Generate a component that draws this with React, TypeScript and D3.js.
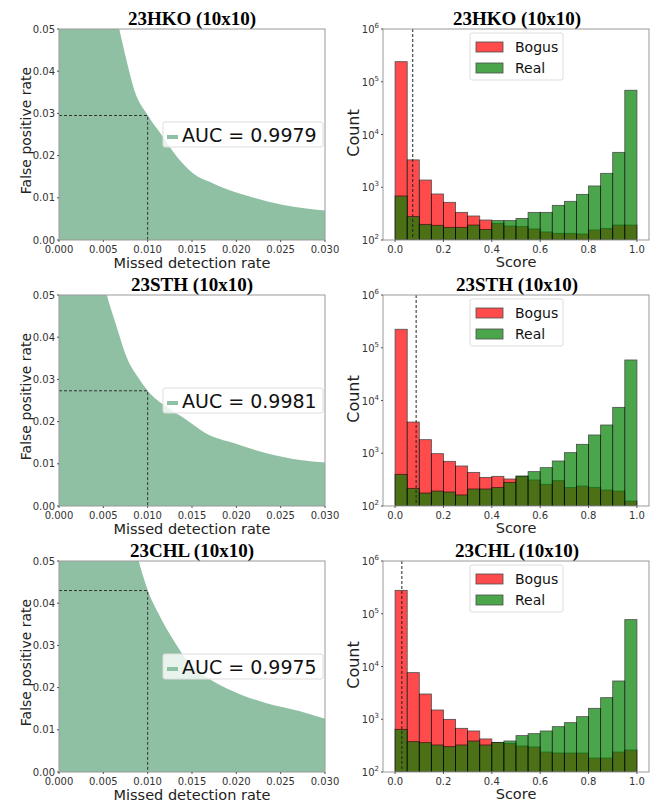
import React from 'react';
import * as d3 from 'd3';

// panel titles / legends
const titles = ['23HKO (10x10)', '23STH (10x10)', '23CHL (10x10)'];
const aucLabels = ['AUC = 0.9979', 'AUC = 0.9981', 'AUC = 0.9975'];

// ROC: missed detection rate vs false positive rate
const mdrHKO = [0, 0.006, 0.0068, 0.0076, 0.0085, 0.01, 0.0117, 0.0133, 0.0151, 0.0174, 0.0185, 0.0215, 0.0253, 0.03];
const fprHKO = [0.12, 0.058, 0.05, 0.0427, 0.0355, 0.0296, 0.0245, 0.0197, 0.0158, 0.0134, 0.0124, 0.0103, 0.0083, 0.007];
const mdrSTH = [0, 0.0045, 0.0054, 0.0065, 0.0076, 0.0091, 0.01, 0.0121, 0.0144, 0.0166, 0.0197, 0.0234, 0.0272, 0.03];
const fprSTH = [0.12, 0.058, 0.05, 0.0425, 0.0354, 0.0299, 0.0273, 0.0235, 0.0204, 0.0172, 0.0149, 0.0125, 0.0109, 0.0103];
const mdrCHL = [0, 0.008, 0.009, 0.0095, 0.01, 0.0114, 0.0129, 0.0144, 0.0166, 0.0197, 0.0234, 0.0272, 0.03];
const fprCHL = [0.12, 0.06, 0.05, 0.0463, 0.0431, 0.0368, 0.0313, 0.0266, 0.0226, 0.0191, 0.0163, 0.0144, 0.0126];

// operating point (mdr = 1%)
const mdrCut = 0.01;
const fprAtCut = [0.0295, 0.0273, 0.043];
const scoreCut = [0.073, 0.087, 0.028];

// histogram bins (left edges, width 0.05)
const binStarts = [0, 0.05, 0.1, 0.15, 0.2, 0.25, 0.3, 0.35, 0.4, 0.45, 0.5, 0.55, 0.6, 0.65, 0.7, 0.75, 0.8, 0.85, 0.9, 0.95];
const binWidth = 0.05;

const bogusHKO = [240000, 3300, 1370, 745, 518, 334, 285, 239, 207, 184, 179, 162, 142, 134, 134, 130, 155, 166, 192, 192];
const realHKO = [682, 277, 198, 190, 174, 174, 192, 159, 233, 233, 257, 334, 334, 454, 541, 734, 1057, 1837, 4590, 69000];
const bogusSTH = [224000, 3900, 1807, 982, 703, 573, 434, 349, 365, 325, 365, 311, 258, 302, 223, 239, 226, 201, 192, 124];
const realSTH = [398, 216, 176, 192, 184, 162, 210, 210, 223, 281, 370, 448, 533, 713, 1026, 1477, 2218, 3432, 7420, 58600];
const bogusCHL = [278000, 7640, 3010, 1497, 996, 673, 599, 423, 360, 349, 311, 298, 239, 229, 229, 229, 184, 184, 239, 261];
const realCHL = [644, 376, 360, 325, 302, 325, 387, 325, 365, 387, 489, 533, 599, 723, 861, 1119, 1611, 2564, 5310, 77300];

// tick values
const mdrTicks = [0, 0.005, 0.01, 0.015, 0.02, 0.025, 0.03];
const fprTicks = [0, 0.01, 0.02, 0.03, 0.04, 0.05];
const scoreTicks = [0, 0.2, 0.4, 0.6, 0.8, 1.0];
const countExps = [2, 3, 4, 5, 6];

const rowTops = [29, 295, 561];
const plotH = 211;
const left = { x0: 59, x1: 325 };
const right = { x0: 383, x1: 649 };
const sans = 'DejaVu Sans, sans-serif';
const serif = 'Liberation Serif, Times New Roman, serif';
const spine = '#999';
const rocFill = '#8fc0a4';

const RocPanel = ({ idx, mdr, fpr }) => {
  const top = rowTops[idx];
  const bottom = top + plotH;
  const x = d3.scaleLinear().domain([0, 0.03]).range([left.x0, left.x1]);
  const y = d3.scaleLinear().domain([0, 0.05]).range([bottom, top]);
  const pts = mdr.map((m, i) => [m, fpr[i]]);
  const area = d3.area().x(d => x(d[0])).y0(y(0)).y1(d => y(d[1])).curve(d3.curveMonotoneX);
  const fmtX = d3.format('.3f');
  const fmtY = d3.format('.2f');
  const cy = (top + bottom) / 2;
  const clip = `roc-clip-${idx}`;
  return (
    <g>
      <defs>
        <clipPath id={clip}>
          <rect x={left.x0} y={top} width={left.x1 - left.x0} height={plotH} />
        </clipPath>
      </defs>
      <path d={area(pts)} fill={rocFill} clipPath={`url(#${clip})`} />
      <path
        d={`M${x(0)},${y(fprAtCut[idx])}H${x(mdrCut)}V${y(0)}`}
        fill="none" stroke="#333" strokeWidth={1} strokeDasharray="3,2"
      />
      <rect x={left.x0} y={top} width={left.x1 - left.x0} height={plotH} fill="none" stroke={spine} strokeWidth={1} />
      {mdrTicks.map(t => (
        <g key={t}>
          <line x1={x(t)} x2={x(t)} y1={bottom} y2={bottom + 2} stroke="#555" />
          <text x={x(t)} y={bottom + 13} fontSize={10} fontFamily={sans} fill="#333" textAnchor="middle">{fmtX(t)}</text>
        </g>
      ))}
      {fprTicks.map(t => (
        <g key={t}>
          <line x1={left.x0 - 2} x2={left.x0} y1={y(t)} y2={y(t)} stroke="#555" />
          <text x={left.x0 - 4} y={y(t) + 3.5} fontSize={10} fontFamily={sans} fill="#333" textAnchor="end">{fmtY(t)}</text>
        </g>
      ))}
      <text x={(left.x0 + left.x1) / 2} y={top - 4} fontSize={19} fontWeight="bold" fontFamily={serif} textAnchor="middle">{titles[idx]}</text>
      <text x={(left.x0 + left.x1) / 2} y={bottom + 28} fontSize={14.5} fontFamily={sans} fill="#222" textAnchor="middle">Missed detection rate</text>
      <text transform={`translate(31,${cy - 4}) rotate(-90)`} fontSize={14} fontFamily={sans} fill="#222" textAnchor="middle">False positive rate</text>
      <g>
        <rect x={left.x1 - 162} y={cy - 12.5} width={160} height={25} rx={2} fill="#fff" fillOpacity={0.8} stroke="#ddd" />
        <rect x={left.x1 - 158} y={cy + 0.5} width={11} height={4} fill={rocFill} />
        <text x={left.x1 - 143} y={cy + 7} fontSize={19} fontFamily={sans} fill="#111">{aucLabels[idx]}</text>
      </g>
    </g>
  );
};

const HistPanel = ({ idx, bogus, real }) => {
  const top = rowTops[idx];
  const bottom = top + plotH;
  const x = d3.scaleLinear().domain([-0.05, 1.05]).range([right.x0, right.x1]);
  const y = d3.scaleLog().domain([100, 1e6]).range([bottom, top]);
  const clip = `hist-clip-${idx}`;
  const fmtX = d3.format('.1f');
  const bars = (vals, color) => vals.map((v, i) => (
    <rect
      key={i}
      x={x(binStarts[i])}
      y={y(v)}
      width={x(binStarts[i] + binWidth) - x(binStarts[i])}
      height={bottom - y(v)}
      fill={color}
      stroke="#000"
      strokeWidth={0.8}
      opacity={0.7}
    />
  ));
  const cx = (right.x0 + right.x1) / 2;
  return (
    <g>
      <defs>
        <clipPath id={clip}>
          <rect x={right.x0} y={top} width={right.x1 - right.x0} height={plotH} />
        </clipPath>
      </defs>
      <g clipPath={`url(#${clip})`}>
        {bars(bogus, 'red')}
        {bars(real, 'green')}
        <line x1={x(scoreCut[idx])} x2={x(scoreCut[idx])} y1={top} y2={bottom} stroke="#222" strokeWidth={1} strokeDasharray="3,2" />
      </g>
      <rect x={right.x0} y={top} width={right.x1 - right.x0} height={plotH} fill="none" stroke={spine} strokeWidth={1} />
      {scoreTicks.map(t => (
        <g key={t}>
          <line x1={x(t)} x2={x(t)} y1={bottom} y2={bottom + 2} stroke="#555" />
          <text x={x(t)} y={bottom + 13} fontSize={10} fontFamily={sans} fill="#333" textAnchor="middle">{fmtX(t)}</text>
        </g>
      ))}
      {countExps.map(e => (
        <g key={e}>
          <line x1={right.x0 - 2} x2={right.x0} y1={y(Math.pow(10, e))} y2={y(Math.pow(10, e))} stroke="#555" />
          <text x={right.x0 - 4} y={y(Math.pow(10, e)) + 4} fontSize={10} fontFamily={sans} fill="#333" textAnchor="end">
            10<tspan dy={-5} fontSize={7}>{e}</tspan>
          </text>
        </g>
      ))}
      <text x={cx + 1} y={top - 4} fontSize={19} fontWeight="bold" fontFamily={serif} textAnchor="middle">{titles[idx]}</text>
      <text x={cx} y={bottom + 27} fontSize={14.5} fontFamily={sans} fill="#222" textAnchor="middle">Score</text>
      <text transform={`translate(359,${top + 104}) rotate(-90)`} fontSize={16} fontFamily={sans} fill="#222" textAnchor="middle">Count</text>
      <g>
        <rect x={cx - 46} y={top + 4} width={93} height={47} rx={2} fill="#fff" fillOpacity={0.8} stroke="#ddd" />
        <rect x={cx - 40} y={top + 13} width={27} height={10} fill="red" stroke="#000" strokeWidth={0.8} opacity={0.7} />
        <rect x={cx - 40} y={top + 34} width={27} height={10} fill="green" stroke="#000" strokeWidth={0.8} opacity={0.7} />
        <text x={cx - 1} y={top + 23} fontSize={14} fontFamily={sans} fill="#111">Bogus</text>
        <text x={cx - 1} y={top + 44} fontSize={14} fontFamily={sans} fill="#111">Real</text>
      </g>
    </g>
  );
};

export default function App() {
  return (
    <svg width={655} height={803} style={{ position: 'absolute', left: 0, top: 0, background: '#fff' }}>
      <RocPanel idx={0} mdr={mdrHKO} fpr={fprHKO} />
      <RocPanel idx={1} mdr={mdrSTH} fpr={fprSTH} />
      <RocPanel idx={2} mdr={mdrCHL} fpr={fprCHL} />
      <HistPanel idx={0} bogus={bogusHKO} real={realHKO} />
      <HistPanel idx={1} bogus={bogusSTH} real={realSTH} />
      <HistPanel idx={2} bogus={bogusCHL} real={realCHL} />
    </svg>
  );
}
